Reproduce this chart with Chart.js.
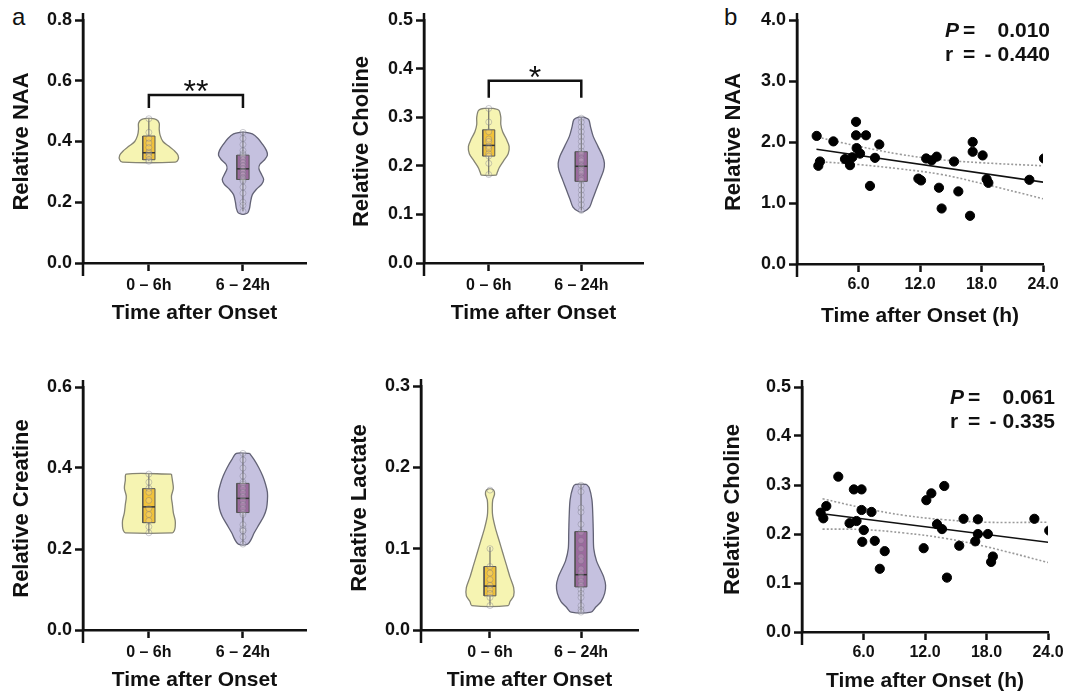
<!DOCTYPE html>
<html>
<head>
<meta charset="utf-8">
<script src="https://cdn.jsdelivr.net/npm/chart.js@4.4.1/dist/chart.umd.min.js"></script>
<style>
  body { margin: 0; background: #fff; width: 1070px; height: 697px; position: relative; overflow: hidden;
         font-family: "Liberation Sans", Arial, sans-serif; }
  canvas { position: absolute; }
  .lab { position: absolute; font-size: 24px; line-height: 24px; color: #111; }
</style>
</head>
<body>
<div class="lab" style="left:12px;top:5px">a</div>
<div class="lab" style="left:724px;top:5px">b</div>
<canvas id="naaViolin"></canvas>
<canvas id="choViolin"></canvas>
<canvas id="naaScatter"></canvas>
<canvas id="creViolin"></canvas>
<canvas id="lacViolin"></canvas>
<canvas id="choScatter"></canvas>
<script>
// ---- data ----
const groups = ["0 – 6h", "6 – 24h"];

// box stats: [min, q1, median, q3, max]
const naaEarlyBox = [0.335, 0.34, 0.363, 0.418, 0.475];
const naaLateBox = [0.17, 0.275, 0.31, 0.355, 0.43];
const choEarlyBox = [0.182, 0.22, 0.242, 0.274, 0.318];
const choLateBox = [0.108, 0.168, 0.199, 0.229, 0.298];
const creEarlyBox = [0.24, 0.265, 0.304, 0.349, 0.385];
const creLateBox = [0.212, 0.29, 0.325, 0.362, 0.436];
const lacEarlyBox = [0.03, 0.042, 0.054, 0.078, 0.102];
const lacLateBox = [0.022, 0.053, 0.068, 0.121, 0.179];

// individual values shown in the violins
const naaEarlyPts = [0.475, 0.43, 0.41, 0.395, 0.38, 0.365, 0.36, 0.35, 0.34, 0.335];
const naaLatePts = [0.43, 0.41, 0.39, 0.37, 0.36, 0.355, 0.35, 0.34, 0.33, 0.32, 0.31, 0.3, 0.29, 0.28, 0.275, 0.27, 0.25, 0.23, 0.2, 0.19, 0.17];
const choEarlyPts = [0.318, 0.29, 0.27, 0.255, 0.25, 0.24, 0.235, 0.225, 0.22, 0.205, 0.182];
const choLatePts = [0.298, 0.29, 0.28, 0.27, 0.26, 0.25, 0.24, 0.23, 0.225, 0.215, 0.21, 0.2, 0.195, 0.19, 0.185, 0.175, 0.17, 0.16, 0.15, 0.14, 0.13, 0.12, 0.108];
const creEarlyPts = [0.385, 0.365, 0.35, 0.34, 0.32, 0.3, 0.285, 0.27, 0.255, 0.24];
const creLatePts = [0.436, 0.42, 0.4, 0.38, 0.365, 0.36, 0.35, 0.34, 0.33, 0.32, 0.31, 0.3, 0.29, 0.285, 0.26, 0.25, 0.245, 0.245, 0.23, 0.212];
const lacEarlyPts = [0.172, 0.1, 0.078, 0.07, 0.062, 0.055, 0.05, 0.045, 0.04, 0.03];
const lacLatePts = [0.178, 0.17, 0.15, 0.145, 0.13, 0.12, 0.11, 0.1, 0.09, 0.085, 0.075, 0.07, 0.065, 0.06, 0.055, 0.05, 0.045, 0.04, 0.03, 0.025, 0.022];

// violin outlines: levels (top -> bottom) and half widths in category units
const naaEarlyLv = [0.477, 0.472, 0.46, 0.44, 0.42, 0.40, 0.385, 0.37, 0.355, 0.34, 0.332];
const naaEarlyW = [0, 0.08, 0.11, 0.11, 0.12, 0.15, 0.21, 0.27, 0.31, 0.31, 0.28];
const naaLateLv = [0.432, 0.425, 0.41, 0.39, 0.37, 0.355, 0.34, 0.325, 0.31, 0.29, 0.275, 0.26, 0.245, 0.225, 0.2, 0.18, 0.165, 0.16];
const naaLateW = [0, 0.10, 0.16, 0.21, 0.25, 0.26, 0.23, 0.18, 0.17, 0.2, 0.22, 0.2, 0.15, 0.1, 0.08, 0.07, 0.05, 0];
const choEarlyLv = [0.318, 0.314, 0.30, 0.285, 0.27, 0.255, 0.24, 0.225, 0.21, 0.195, 0.185, 0.181];
const choEarlyW = [0.05, 0.11, 0.13, 0.13, 0.15, 0.19, 0.22, 0.21, 0.16, 0.11, 0.09, 0.08];
const choLateLv = [0.30, 0.295, 0.28, 0.26, 0.24, 0.22, 0.205, 0.19, 0.17, 0.15, 0.13, 0.115, 0.106];
const choLateW = [0.03, 0.08, 0.10, 0.13, 0.18, 0.23, 0.25, 0.24, 0.2, 0.16, 0.12, 0.09, 0.03];
const creEarlyLv = [0.385, 0.37, 0.35, 0.33, 0.31, 0.29, 0.27, 0.255, 0.245, 0.24];
const creEarlyW = [0.24, 0.25, 0.26, 0.24, 0.25, 0.26, 0.28, 0.28, 0.27, 0.25];
const creLateLv = [0.436, 0.42, 0.40, 0.38, 0.36, 0.34, 0.32, 0.30, 0.28, 0.26, 0.24, 0.225, 0.212];
const creLateW = [0.07, 0.12, 0.17, 0.21, 0.24, 0.26, 0.26, 0.25, 0.22, 0.17, 0.12, 0.09, 0.05];
const lacEarlyLv = [0.174, 0.172, 0.167, 0.16, 0.15, 0.14, 0.125, 0.11, 0.095, 0.08, 0.065, 0.052, 0.042, 0.035, 0.03];
const lacEarlyW = [0, 0.04, 0.05, 0.03, 0.025, 0.03, 0.06, 0.1, 0.14, 0.18, 0.22, 0.26, 0.26, 0.22, 0.2];
const lacLateLv = [0.179, 0.175, 0.16, 0.14, 0.12, 0.10, 0.085, 0.075, 0.065, 0.055, 0.045, 0.035, 0.028, 0.022];
const lacLateW = [0.06, 0.09, 0.12, 0.13, 0.135, 0.14, 0.17, 0.21, 0.25, 0.27, 0.26, 0.22, 0.16, 0.11];

// significance brackets: [top, leg end]
const naaSig = [0.553, 0.51];
const choSig = [0.375, 0.34];

// y tick labels
const naaTicks = [0, 0.2, 0.4, 0.6, 0.8];
const choTicks = [0, 0.1, 0.2, 0.3, 0.4, 0.5];
const creTicks = [0, 0.2, 0.4, 0.6];
const lacTicks = [0, 0.1, 0.2, 0.3];
const naaRelTicks = [0, 1, 2, 3, 4];
const hourTicks = [6, 12, 18, 24];

// correlation panels
const naaHours = [1.92, 2.24, 2.08, 3.55, 4.68, 5.17, 5.4, 5.76, 5.76, 5.82, 6.15, 6.73, 7.12, 7.61, 8.03, 11.84, 12.1, 12.6, 13.14, 13.63, 13.85, 14.11, 15.32, 15.74, 16.88, 17.14, 17.14, 18.11, 18.5, 18.67, 22.67, 24.1];
const naaValues = [2.10, 1.68, 1.61, 2.01, 1.72, 1.62, 1.75, 2.33, 2.11, 1.90, 1.81, 2.11, 1.28, 1.74, 1.96, 1.40, 1.37, 1.73, 1.70, 1.76, 1.25, 0.91, 1.68, 1.19, 0.79, 2.0, 1.84, 1.78, 1.39, 1.33, 1.38, 1.73];
const naaFitX = [1.9, 24.1];
const naaFitY = [1.88, 1.34];
const naaCiX = [2, 6, 10, 14, 18, 24];
const naaCiHi = [2.08, 1.93, 1.80, 1.71, 1.66, 1.61];
const naaCiLo = [1.68, 1.63, 1.56, 1.47, 1.32, 1.07];
const naaStats = ["0.010", "- 0.440"];

const choHours = [1.82, 2.08, 2.37, 3.54, 4.64, 5.06, 5.32, 5.81, 5.81, 6.03, 5.88, 6.78, 7.1, 7.59, 8.07, 11.87, 12.13, 12.62, 13.17, 13.66, 13.88, 14.14, 15.34, 15.76, 16.9, 17.16, 17.16, 18.13, 18.62, 18.45, 22.67, 24.12];
const choValues = [0.2435, 0.232, 0.257, 0.317, 0.222, 0.291, 0.2265, 0.291, 0.249, 0.208, 0.184, 0.245, 0.186, 0.129, 0.165, 0.171, 0.269, 0.283, 0.220, 0.210, 0.298, 0.111, 0.176, 0.231, 0.185, 0.230, 0.200, 0.200, 0.154, 0.143, 0.231, 0.207];
const choFitX = [1.8, 24.1];
const choFitY = [0.242, 0.183];
const choCiX = [2, 6, 10, 14, 18, 24];
const choCiHi = [0.272, 0.253, 0.238, 0.229, 0.224, 0.224];
const choCiLo = [0.210, 0.209, 0.202, 0.191, 0.174, 0.142];
const choStats = ["0.061", "- 0.335"];

// ---- drawing ----
const FONT = '"Liberation Sans", Arial, sans-serif';
const INK = "#111";
const BOX_W = 0.065;
Chart.defaults.font.family = FONT;
Chart.defaults.color = INK;

const palettes = [
  { fill: "rgb(246,244,178)", line: "#858474", box: "#f1c23a" },
  { fill: "rgb(197,193,223)", line: "#626275", box: "#9b6a9d" },
];

function violinPath(c, lv, w) {
  const right = lv.map((y, i) => ({ x: c + w[i], y }));
  const left = lv.map((y, i) => ({ x: c - w[i], y })).reverse();
  return [...right, ...left, right[0]];
}

function pairs(xs, ys) {
  return xs.map((x, i) => ({ x, y: ys[i] }));
}

// axis line that runs a bit above the top tick and below the x axis
const axisExtras = {
  id: "axisExtras",
  afterDraw(chart, args, opts) {
    const { ctx, chartArea: a, scales } = chart;
    ctx.save();
    ctx.strokeStyle = INK;
    ctx.lineWidth = 2.5;
    ctx.beginPath();
    ctx.moveTo(a.left, a.top - 7);
    ctx.lineTo(a.left, a.bottom + 13);
    ctx.stroke();

    if (opts.sig) {
      const x = scales.x.getPixelForValue(1.5);
      const y = scales.y.getPixelForValue(opts.sig.top);
      ctx.fillStyle = INK;
      ctx.font = "32px " + FONT;
      ctx.textAlign = "center";
      ctx.textBaseline = "alphabetic";
      ctx.fillText(opts.sig.label, x, y + 7);
    }

    if (opts.stats) {
      const [p, r] = opts.stats;
      const xl = a.right - 98, xe = a.right - 80, xr = a.right + 7;
      const y1 = a.top + 11, y2 = a.top + 35.5;
      ctx.fillStyle = INK;
      ctx.textBaseline = "middle";
      ctx.textAlign = "left";
      ctx.font = "italic bold 21px " + FONT;
      ctx.fillText("P", xl, y1);
      ctx.font = "bold 21px " + FONT;
      ctx.fillText("=", xe, y1);
      ctx.fillText("r", xl, y2);
      ctx.fillText("=", xe, y2);
      ctx.textAlign = "right";
      ctx.fillText(p, xr, y1);
      ctx.fillText(r, xr, y2);
    }
    ctx.restore();
  },
};

function layout(canvas, pos) {
  const left = pos.titleX - 16;
  const top = pos.t - 20;
  const right = pos.r + 26;
  const bottom = pos.titleY + 12.6 + 4;
  canvas.style.left = left + "px";
  canvas.style.top = top + "px";
  canvas.width = right - left;
  canvas.height = Math.round(bottom - top);
  return {
    yw: pos.l - left,
    xh: pos.titleY + 12.6 - pos.b,
    padding: { left: 0, top: 20, right: 26, bottom: canvas.height - (pos.titleY + 12.6 - top) },
  };
}

function yScale(ticks, title, yw) {
  return {
    min: 0,
    max: ticks[ticks.length - 1],
    afterBuildTicks: (s) => { s.ticks = ticks.map((v) => ({ value: v })); },
    ticks: { callback: (v) => v.toFixed(1), font: { size: 18, weight: "bold" }, color: INK, padding: 3 },
    grid: { display: true, drawOnChartArea: false, tickLength: 8, tickWidth: 2.5, tickColor: INK },
    border: { display: true, color: INK, width: 2.5 },
    title: { display: true, text: title, font: { size: 22, weight: "bold" }, color: INK, padding: { top: 2.8, bottom: 0 } },
    afterFit: (s) => { s.width = yw; s.paddingTop = 0; s.paddingBottom = 0; },
  };
}

function xScale(opts, xh) {
  return {
    type: "linear",
    min: opts.min,
    max: opts.max,
    afterBuildTicks: (s) => { s.ticks = opts.ticks.map((v) => ({ value: v })); },
    ticks: { callback: opts.label, font: { size: 16, weight: "bold" }, color: INK, padding: opts.pad, maxRotation: 0, autoSkip: false },
    grid: { display: true, drawOnChartArea: false, tickLength: 8, tickWidth: 2.5, tickColor: INK },
    border: { display: true, color: INK, width: 2.5 },
    title: { display: true, text: opts.title, font: { size: 21, weight: "bold" }, color: INK, padding: { top: 0, bottom: 0 } },
    afterFit: (s) => { s.height = xh; s.paddingLeft = 0; s.paddingRight = 0; },
  };
}

function violinChart(id, pos, spec) {
  const canvas = document.getElementById(id);
  const lay = layout(canvas, pos);
  const datasets = [];

  spec.groups.forEach((g, i) => {
    const c = i + 1;
    const pal = palettes[i];
    datasets.push({
      data: g.pts.map((v) => ({ x: c, y: v })),
      pointRadius: 3,
      pointBackgroundColor: "rgba(255,255,255,0.15)",
      pointBorderColor: "rgba(110,110,125,0.35)",
      pointBorderWidth: 1,
      order: 1,
    });
    datasets.push({
      data: [{ x: c - BOX_W, y: g.box[2] }, { x: c + BOX_W, y: g.box[2] }],
      showLine: true, borderColor: "#333", borderWidth: 1.5, pointRadius: 0, order: 2,
    });
    datasets.push({
      data: [
        { x: c - BOX_W, y: g.box[1] }, { x: c + BOX_W, y: g.box[1] },
        { x: c + BOX_W, y: g.box[3] }, { x: c - BOX_W, y: g.box[3] },
        { x: c - BOX_W, y: g.box[1] },
      ],
      showLine: true, fill: "shape", backgroundColor: pal.box, borderColor: "#555",
      borderWidth: 1, pointRadius: 0, order: 3,
    });
    datasets.push({
      data: [{ x: c, y: g.box[0] }, { x: c, y: g.box[4] }],
      showLine: true, borderColor: "#555", borderWidth: 1, pointRadius: 0, order: 4,
    });
    datasets.push({
      data: violinPath(c, g.lv, g.w),
      showLine: true, fill: "shape", backgroundColor: pal.fill, borderColor: pal.line,
      borderWidth: 1.3, tension: 0.3, pointRadius: 0, order: 5,
    });
  });

  if (spec.sig) {
    const [top, leg] = spec.sig.vals;
    datasets.push({
      data: [{ x: 1, y: leg }, { x: 1, y: top }, { x: 2, y: top }, { x: 2, y: leg }],
      showLine: true, borderColor: INK, borderWidth: 2.5, pointRadius: 0, order: 6,
    });
  }

  return new Chart(canvas, {
    type: "scatter",
    data: { datasets },
    options: {
      responsive: false,
      animation: false,
      devicePixelRatio: 1,
      layout: { padding: lay.padding },
      plugins: {
        legend: { display: false },
        tooltip: { enabled: false },
        axisExtras: { sig: spec.sig ? { top: spec.sig.vals[0], label: spec.sig.label } : null },
      },
      scales: {
        x: xScale({ min: pos.xMin, max: pos.xMax, ticks: [1, 2], label: (v) => groups[v - 1],
          title: "Time after Onset", pad: 5 }, lay.xh),
        y: yScale(spec.ticks, spec.title, lay.yw),
      },
    },
    plugins: [axisExtras],
  });
}

function corrChart(id, pos, spec) {
  const canvas = document.getElementById(id);
  const lay = layout(canvas, pos);
  const ci = { showLine: true, borderColor: "#9a9a9a", borderWidth: 1.6, borderDash: [2, 2],
    pointRadius: 0, tension: 0.4, order: 3 };
  const datasets = [
    { data: pairs(spec.hours, spec.values), pointRadius: 4.6, pointBackgroundColor: "#000",
      pointBorderColor: "#000", order: 1 },
    { data: pairs(spec.fitX, spec.fitY), showLine: true, borderColor: "#111", borderWidth: 1.6,
      pointRadius: 0, order: 2 },
    Object.assign({ data: pairs(spec.ciX, spec.ciHi) }, ci),
    Object.assign({ data: pairs(spec.ciX, spec.ciLo) }, ci),
  ];

  return new Chart(canvas, {
    type: "scatter",
    data: { datasets },
    options: {
      responsive: false,
      animation: false,
      devicePixelRatio: 1,
      layout: { padding: lay.padding },
      plugins: {
        legend: { display: false },
        tooltip: { enabled: false },
        axisExtras: { stats: spec.stats },
      },
      scales: {
        x: xScale({ min: 0, max: 24, ticks: hourTicks, label: (v) => v.toFixed(1),
          title: "Time after Onset (h)", pad: 3 }, lay.xh),
        y: yScale(spec.ticks, spec.title, lay.yw),
      },
    },
    plugins: [axisExtras],
  });
}

violinChart("naaViolin",
  { l: 83, t: 20, r: 306, b: 263, titleX: 22, titleY: 313, xMin: 0.3, xMax: 2.67 },
  { title: "Relative NAA", ticks: naaTicks, sig: { vals: naaSig, label: "**" },
    groups: [
      { lv: naaEarlyLv, w: naaEarlyW, pts: naaEarlyPts, box: naaEarlyBox },
      { lv: naaLateLv, w: naaLateW, pts: naaLatePts, box: naaLateBox },
    ] });

violinChart("choViolin",
  { l: 424, t: 20, r: 643, b: 263, titleX: 362, titleY: 313, xMin: 0.3, xMax: 2.667 },
  { title: "Relative Choline", ticks: choTicks, sig: { vals: choSig, label: "*" },
    groups: [
      { lv: choEarlyLv, w: choEarlyW, pts: choEarlyPts, box: choEarlyBox },
      { lv: choLateLv, w: choLateW, pts: choLatePts, box: choLateBox },
    ] });

violinChart("creViolin",
  { l: 83, t: 387, r: 306, b: 630, titleX: 22, titleY: 680, xMin: 0.3, xMax: 2.67 },
  { title: "Relative Creatine", ticks: creTicks,
    groups: [
      { lv: creEarlyLv, w: creEarlyW, pts: creEarlyPts, box: creEarlyBox },
      { lv: creLateLv, w: creLateW, pts: creLatePts, box: creLateBox },
    ] });

violinChart("lacViolin",
  { l: 421, t: 386, r: 638, b: 630, titleX: 360, titleY: 680, xMin: 0.242, xMax: 2.626 },
  { title: "Relative Lactate", ticks: lacTicks,
    groups: [
      { lv: lacEarlyLv, w: lacEarlyW, pts: lacEarlyPts, box: lacEarlyBox },
      { lv: lacLateLv, w: lacLateW, pts: lacLatePts, box: lacLateBox },
    ] });

corrChart("naaScatter",
  { l: 797, t: 20, r: 1043, b: 264, titleX: 734, titleY: 316 },
  { title: "Relative NAA", ticks: naaRelTicks, hours: naaHours, values: naaValues,
    fitX: naaFitX, fitY: naaFitY, ciX: naaCiX, ciHi: naaCiHi, ciLo: naaCiLo, stats: naaStats });

corrChart("choScatter",
  { l: 802, t: 387, r: 1048, b: 632, titleX: 733, titleY: 681 },
  { title: "Relative Choline", ticks: choTicks, hours: choHours, values: choValues,
    fitX: choFitX, fitY: choFitY, ciX: choCiX, ciHi: choCiHi, ciLo: choCiLo, stats: choStats });
</script>
</body>
</html>
